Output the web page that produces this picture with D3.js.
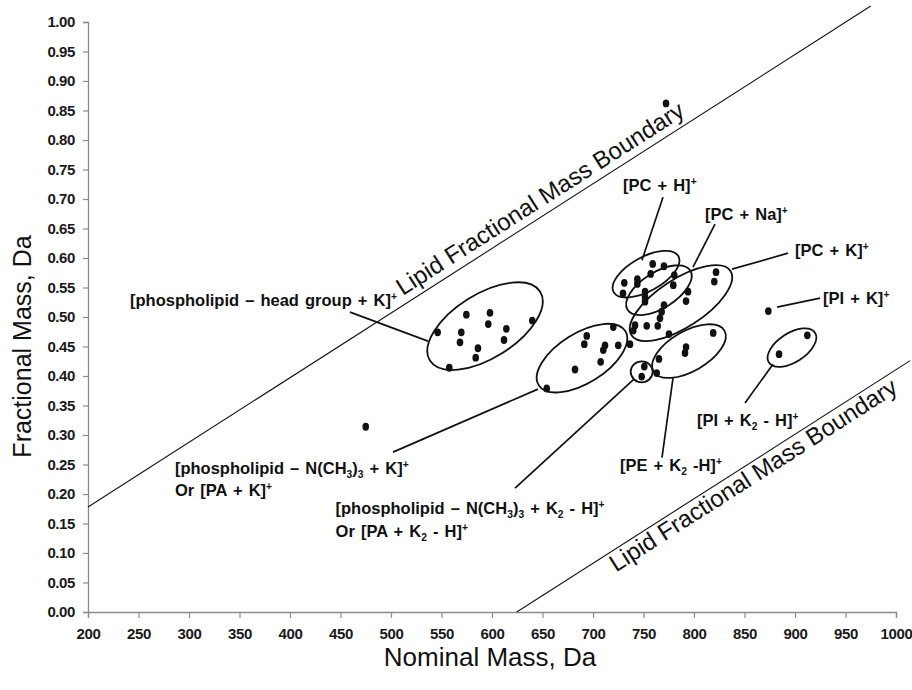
<!DOCTYPE html>
<html>
<head>
<meta charset="utf-8">
<script src="https://cdn.jsdelivr.net/npm/d3@7/dist/d3.min.js"></script>
<style>
  body { margin: 0; background: #fff; }
  text { font-family: "Liberation Sans", Arial, Helvetica, sans-serif; }
</style>
</head>
<body>
<svg id="chart" width="912" height="690"></svg>
<script>
// measured points (Da, Da)
var nominalMass = [
  574.6, 598.0, 596.3, 639.9, 546.2, 569.6, 614.2, 568.3, 611.9, 586.1, 583.9, 557.7,
  759.1, 770.3, 757.1, 780.5, 731.0, 743.9, 743.9, 729.7, 779.5, 751.5, 751.5, 751.5,
  821.8, 820.1, 794.1, 792.1, 770.3, 768.0, 766.3, 764.1, 753.2, 741.6, 739.9, 775.2,
  819.0, 720.1, 693.8, 691.4, 711.9, 710.2, 707.6, 725.0, 736.6, 682.2, 654.2,
  792.1, 791.1, 765.3, 763.1, 750.8, 748.2,
  475.0, 772.3, 873.6, 912.2, 884.2
];
var fractionalMass = [
  0.504, 0.507, 0.488, 0.494, 0.474, 0.474, 0.480, 0.457, 0.461, 0.447, 0.431, 0.414,
  0.590, 0.586, 0.573, 0.571, 0.558, 0.564, 0.556, 0.540, 0.554, 0.543, 0.534, 0.526,
  0.576, 0.560, 0.543, 0.527, 0.520, 0.509, 0.498, 0.485, 0.485, 0.486, 0.477, 0.471,
  0.473, 0.483, 0.468, 0.454, 0.452, 0.444, 0.424, 0.452, 0.454, 0.411, 0.379,
  0.449, 0.439, 0.429, 0.405, 0.416, 0.399,
  0.314, 0.862, 0.510, 0.469, 0.437
];

var xTicks = d3.range(200, 1001, 50);
var yTicks = d3.range(0, 1.0001, 0.05);

// boundary lines: [x0, y0, x1, y1]
var upperBoundary = [200, 0.178, 975, 1.027];
var lowerBoundary = [624.5, 0.0, 1014, 0.426];

// group outlines: centre in data units
var groupCx = [593.1, 752.5, 765.3, 787.1, 689.1, 748.2, 795.0, 897.0];
var groupCy = [0.4845, 0.5726, 0.5455, 0.5235, 0.4303, 0.4071, 0.4422, 0.4481];

// labels
var labelText = [
  "[phospholipid – head group + K]^+",
  "[phospholipid – N(CH_3)_3 + K]^+",
  "Or [PA + K]^+",
  "[phospholipid – N(CH_3)_3 + K_2 - H]^+",
  "Or [PA + K_2 - H]^+",
  "[PE + K_2 -H]^+",
  "[PI + K_2 - H]^+",
  "[PI + K]^+",
  "[PC + K]^+",
  "[PC + Na]^+",
  "[PC + H]^+"
];
var labelX = [241.6, 286.1, 286.1, 445.1, 445.1, 726.7, 802.9, 927.8, 900.0, 810.9, 729.7];
var labelY = [0.5184, 0.2337, 0.1965, 0.1660, 0.1270, 0.2388, 0.3151, 0.5219, 0.6031, 0.6641, 0.7131];

// leader lines [x0, y0, x1, y1]
var leaders = [
  [459.4, 0.5082, 536.6, 0.4591],
  [502.0, 0.2710, 645.5, 0.3778],
  [622.8, 0.2101, 740.6, 0.3947],
  [768.3, 0.2617, 779.2, 0.3964],
  [850.5, 0.3541, 878.2, 0.4201],
  [882.2, 0.5167, 924.8, 0.5319],
  [837.6, 0.5811, 893.1, 0.6082],
  [820.8, 0.6573, 799.0, 0.5845],
  [769.3, 0.7030, 748.5, 0.5963]
];

var svg = d3.select("#chart");
var margin = {top: 22, right: 16, bottom: 78, left: 88};
var width = 912, height = 690;

var x = d3.scaleLinear().domain([200, 1000]).range([margin.left, width - margin.right]);
var y = d3.scaleLinear().domain([0, 1]).range([height - margin.bottom, margin.top]);

// axes
var xAxis = svg.append("g")
  .attr("transform", "translate(0," + y(0) + ")")
  .call(d3.axisBottom(x).tickValues(xTicks).tickSize(6).tickPadding(10).tickFormat(d3.format("d")));
var yAxis = svg.append("g")
  .attr("transform", "translate(" + x(200) + ",0)")
  .call(d3.axisLeft(y).tickValues(yTicks).tickSize(5).tickPadding(8).tickFormat(d3.format(".2f")));

[xAxis, yAxis].forEach(function(g) {
  g.select(".domain").attr("stroke", "#8a8a8a").attr("stroke-width", 1.3);
  g.selectAll(".tick line").attr("stroke", "#8a8a8a").attr("stroke-width", 1.2);
  g.selectAll(".tick text")
    .attr("fill", "#1a1a1a")
    .style("font-family", '"Liberation Sans", Arial, sans-serif')
    .style("font-weight", "bold")
    .style("font-size", "15px")
    .style("letter-spacing", "-0.4px");
});

// axis titles
svg.append("text")
  .attr("x", x(600) - 2).attr("y", 666)
  .attr("text-anchor", "middle")
  .style("font-size", "26px")
  .attr("fill", "#111")
  .text("Nominal Mass, Da");
svg.append("text")
  .attr("transform", "translate(31," + y(0.45) + ") rotate(-90)")
  .attr("text-anchor", "middle")
  .style("font-size", "25px")
  .attr("fill", "#111")
  .text("Fractional Mass, Da");

// boundary lines and their labels
[upperBoundary, lowerBoundary].forEach(function(b) {
  svg.append("line")
    .attr("x1", x(b[0])).attr("y1", y(b[1]))
    .attr("x2", x(b[2])).attr("y2", y(b[3]))
    .attr("stroke", "#111").attr("stroke-width", 1.1);
});
// offset > 0 puts the text above the line, < 0 below it
function boundaryLabel(b, startX, offset) {
  var ang = Math.atan2(y(b[3]) - y(b[1]), x(b[2]) - x(b[0])) * 180 / Math.PI;
  var t = (startX - b[0]) / (b[2] - b[0]);
  var px = x(startX), py = y(b[1] + t * (b[3] - b[1]));
  svg.append("text")
    .attr("transform", "translate(" + px + "," + py + ") rotate(" + ang + ") translate(0," + (-offset) + ")")
    .style("font-size", "24px")
    .attr("fill", "#111")
    .text("Lipid Fractional Mass Boundary");
}
boundaryLabel(upperBoundary, 516, 8);
boundaryLabel(lowerBoundary, 712, -20);

// group outlines
var outline = [
  {a: 65, b: 32, rot: -32},
  {a: 37, b: 17, rot: -29},
  {a: 37, b: 18, rot: -32},
  {a: 59, b: 24, rot: -33},
  {a: 51, b: 25, rot: -32},
  {a: 11, b: 10.5, rot: 0},
  {a: 41, b: 20, rot: -30},
  {a: 27.5, b: 14.5, rot: -33}
];
svg.append("g").selectAll("ellipse")
  .data(outline)
  .enter().append("ellipse")
  .attr("transform", function(d, i) {
    return "translate(" + x(groupCx[i]) + "," + y(groupCy[i]) + ") rotate(" + d.rot + ")";
  })
  .attr("rx", function(d) { return d.a; })
  .attr("ry", function(d) { return d.b; })
  .attr("fill", "none")
  .attr("stroke", "#111")
  .attr("stroke-width", 1.8);

// leader lines
svg.append("g").selectAll("line")
  .data(leaders)
  .enter().append("line")
  .attr("x1", function(d) { return x(d[0]); })
  .attr("y1", function(d) { return y(d[1]); })
  .attr("x2", function(d) { return x(d[2]); })
  .attr("y2", function(d) { return y(d[3]); })
  .attr("stroke", "#111")
  .attr("stroke-width", 1.7);

// points
svg.append("g").selectAll("ellipse")
  .data(nominalMass)
  .enter().append("ellipse")
  .attr("cx", function(d) { return x(d); })
  .attr("cy", function(d, i) { return y(fractionalMass[i]); })
  .attr("rx", 3.3)
  .attr("ry", 3.9)
  .attr("fill", "#111");

// labels with sub/superscripts ("^c" raised, "_c" lowered)
function richText(sel, str, size) {
  var parts = str.split(/([\^_].)/);
  var cur = 0;
  parts.forEach(function(p) {
    if (!p) return;
    var target = 0, fs = size, txt = p;
    if (p[0] === "^") { target = -0.38 * size; fs = size * 0.62; txt = p[1]; }
    else if (p[0] === "_") { target = 0.25 * size; fs = size * 0.62; txt = p[1]; }
    sel.append("tspan")
      .attr("dy", target - cur)
      .style("font-size", fs + "px")
      .text(txt);
    cur = target;
  });
}
labelText.forEach(function(s, i) {
  var t = svg.append("text")
    .attr("x", x(labelX[i])).attr("y", y(labelY[i]))
    .style("font-weight", "bold")
    .style("font-size", "16.5px")
    .style("word-spacing", "1.5px")
    .attr("fill", "#111");
  richText(t, s, 16.5);
});
</script>
</body>
</html>
